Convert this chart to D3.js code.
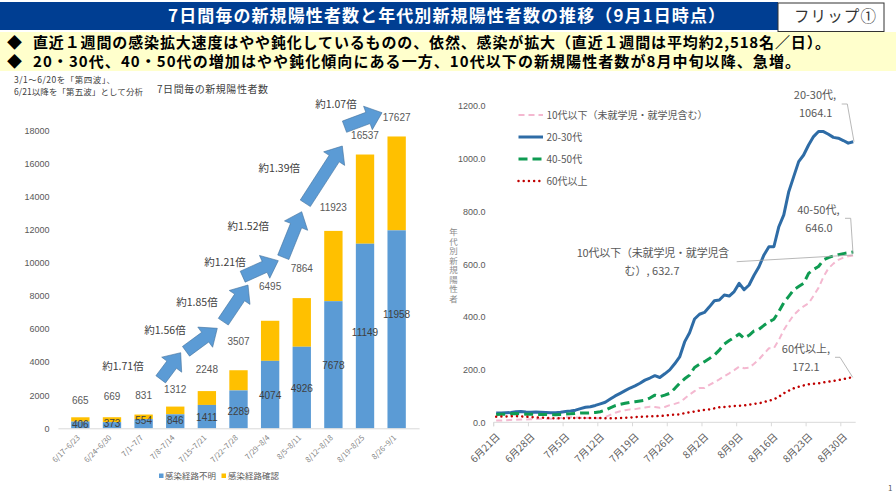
<!DOCTYPE html>
<html lang="ja">
<head>
<meta charset="utf-8">
<script src="https://cdn.jsdelivr.net/npm/d3@7"></script>
<style>
	html, body { margin: 0; padding: 0; background: #fff; }
	svg { display: block; }
	text { font-family: "Noto Sans CJK JP", "Noto Sans", sans-serif; }
	.num text, text.num { font-family: "Liberation Sans", sans-serif; }
</style>
</head>
<body>
<svg id="chart" width="896" height="504"></svg>
<script>
// weekly new cases
var weeks = ["6/17~6/23","6/24~6/30","7/1~7/7","7/8~7/14","7/15~7/21","7/22~7/28","7/29~8/4","8/5~8/11","8/12~8/18","8/19~8/25","8/26~9/1"];
var unknownRoute = [406,373,554,846,1411,2289,4074,4926,7678,11149,11958];
var weeklyTotal = [665,669,831,1312,2248,3507,6495,7864,11923,16537,17627];
var ratioLabels = ["約1.71倍","約1.56倍","約1.85倍","約1.21倍","約1.52倍","約1.39倍","約1.07倍"];
var weeklyTicks = [0,2000,4000,6000,8000,10000,12000,14000,16000,18000];

// daily values by age group, 6/21 .. 9/1
var under10s = [7,7,8,9,10,11,11,12,12,13, 13,13,13,16,19,19,18,17,16,16, 15,15,20,28,36,42,46,49,50,53, 56,59,58,55,58,65,70,76,90,105, 118,130,130,142,152,163,175,186,198,211, 205,207,222,239,260,281,281,312,350,380, 407,425,440,451,480,510,552,584,602,616, 625,630,632.7];
var age2030 = [35,35,36,37,40,41,39,38,39,38, 37,36,36,38,41,43,46,52,57,59, 64,70,76,88,100,110,120,130,138,148, 160,168,177,170,184,199,222,248,305,340, 392,410,417,438,461,464,483,479,496,527, 503,521,558,590,635,666,666,742,787,875, 932,989,1014,1052,1084,1103,1103,1093,1081,1078, 1069,1059,1064.1];
var age4050 = [30,31,31,32,33,32,31,31,30,30, 30,29,29,30,31,32,34,35,35,36, 37,40,46,55,63,68,72,76,78,81, 84,92,103,97,103,110,128,148,165,179, 208,220,230,242,255,274,297,310,322,335, 319,330,347,353,368,381,391,420,454,478, 503,515,527,565,580,591,616,625,631,636, 640,643,646];
var age60up = [21,22,22,23,23,22,21,20,18,18, 17,15,15,15,15,16,16,16,16,16, 16,16,15,15,15,16,17,18,20,21, 22,23,23,24,25,28,29,30,35,38, 41,44,47,49,53,57,58,60,62,63, 64,67,70,72,77,82,87,97,110,120, 129,135,140,144,146,148,151,154,157,160, 164,168,172.1];
var ageNames = ["10代以下（未就学児・就学児含む）","20-30代","40-50代","60代以上"];
var dailyTicks = [0,200,400,600,800,1000,1200];

// hand placed on the slide, not data
var totalLift = [17,21,19,17,22,29,34,30,23,19,19];
var innerShift = [0,-2,-3,-1,1,2,1,1,1,-4,-15];
var arrowPath = [[160.7,379.3,180.7,352.7],[186,351.3,217.3,328.3],[223.3,321.7,248,285],[242.7,276.7,278.3,260.7],[283.3,257.3,301.7,211.7],[305.3,203.3,342.3,146],[344.5,126.7,382,112.7]];
var ratioPos = [[123,366],[165,330],[197,302.7],[225,262],[248.3,226.7],[279.3,168.3],[336,104]];

var seriesColor = ["#f4b8d0","#2e6ca6","#0f9b52","#c00000"];
var seriesDash = ["6 4",null,"9 5","0.01 5.2"];
var seriesWidth = [2,3,3,2.5];

var svg = d3.select("#chart");

// header
svg.append("rect").attr("x",0).attr("y",2).attr("width",778).attr("height",28).attr("fill","#003e92");
svg.append("rect").attr("x",0).attr("y",32).attr("width",896).attr("height",39).attr("fill","#ffffcc");
svg.append("rect").attr("x",778).attr("y",3).attr("width",106).attr("height",28.5).attr("fill","#fff").attr("stroke","#333").attr("stroke-width",1);

function slideText(str, x, y, size, opts) {
	opts = opts || {};
	var t = svg.append("text")
		.attr("x", x).attr("y", y).attr("dy", ".35em")
		.attr("font-size", size)
		.attr("fill", opts.fill || "#595959")
		.attr("text-anchor", opts.anchor || "start")
		.text(str);
	if(opts.bold)
		t.attr("font-weight", "bold");
	if(opts.fit)
		t.attr("textLength", opts.fit).attr("lengthAdjust", "spacing");
	return t;
}

slideText("7日間毎の新規陽性者数と年代別新規陽性者数の推移（9月1日時点）", 168, 16, 17, {fill:"#fff", bold:true, fit:557});
slideText("フリップ①", 835, 17, 15.5, {fill:"#333", anchor:"middle", fit:82});
slideText("◆", 7, 42.5, 15, {fill:"#000"});
slideText("◆", 7, 62, 15, {fill:"#000"});
slideText("直近１週間の感染拡大速度はやや鈍化しているものの、依然、感染が拡大（直近１週間は平均約2,518名／日）。", 33, 42.5, 15, {fill:"#000", bold:true, fit:797});
slideText("20・30代、40・50代の増加はやや鈍化傾向にある一方、10代以下の新規陽性者数が8月中旬以降、急増。", 33, 62, 15, {fill:"#000", bold:true, fit:767});

slideText("3/1～6/20を「第四波」、", 14, 80, 8.5, {fill:"#404040", fit:101});
slideText("6/21以降を「第五波」として分析", 14, 92, 8.5, {fill:"#404040", fit:129});
slideText("7日間毎の新規陽性者数", 157, 89.5, 10, {fill:"#404040", fit:111});

// left: stacked bars
var barX = d3.scaleBand().domain(weeks).range([57.9,419.1]).padding(0.42);
var barY = d3.scaleLinear().domain([0,18000]).range([428.3,130.3]);

svg.append("g").attr("class","num")
	.attr("transform","translate(52.5,0)")
	.call(d3.axisLeft(barY).tickValues(weeklyTicks).tickSize(0).tickFormat(d3.format("d")))
	.call(function(g) {
		g.select(".domain").remove();
		g.selectAll("text").attr("font-size",9).attr("fill","#595959");
	});

svg.append("g").selectAll("rect").data(weeks).join("rect")
	.attr("x", function(d) { return barX(d); })
	.attr("width", barX.bandwidth())
	.attr("y", function(d,i) { return barY(weeklyTotal[i]); })
	.attr("height", function(d,i) { return barY(unknownRoute[i]) - barY(weeklyTotal[i]); })
	.attr("fill","#ffc000");
svg.append("g").selectAll("rect").data(weeks).join("rect")
	.attr("x", function(d) { return barX(d); })
	.attr("width", barX.bandwidth())
	.attr("y", function(d,i) { return barY(unknownRoute[i]); })
	.attr("height", function(d,i) { return barY(0) - barY(unknownRoute[i]); })
	.attr("fill","#5b9bd5");

svg.append("g")
	.attr("transform","translate(0,"+barY(0)+")")
	.call(d3.axisBottom(barX).tickSize(0))
	.call(function(g) {
		g.select(".domain").attr("stroke","#d9d9d9");
		g.selectAll("text")
			.attr("font-size",7.5).attr("fill","#7f7f7f")
			.attr("font-family","Liberation Sans, sans-serif")
			.attr("text-anchor","end")
			.attr("dy",0).attr("y",0)
			.attr("transform","translate(0,10) rotate(-45)");
	});

svg.append("g").attr("class","num").selectAll("text").data(weeklyTotal).join("text")
	.attr("class","num")
	.attr("x", function(d,i) { return barX(weeks[i]) + barX.bandwidth()/2; })
	.attr("y", function(d,i) { return barY(d) - totalLift[i]; })
	.attr("dy",".35em").attr("text-anchor","middle")
	.attr("font-size",10).attr("fill","#595959")
	.text(function(d) { return d; });

svg.append("g").attr("class","num").selectAll("text").data(unknownRoute).join("text")
	.attr("class","num")
	.attr("x", function(d,i) { return barX(weeks[i]) + barX.bandwidth()/2; })
	.attr("y", function(d,i) { return (barY(0)+barY(d))/2 + innerShift[i]; })
	.attr("dy",".35em").attr("text-anchor","middle")
	.attr("font-size",10).attr("fill","#404040")
	.text(function(d) { return d; });

// block arrows between the weeks
function blockArrow(a) {
	var dx = a[2]-a[0], dy = a[3]-a[1];
	var len = Math.sqrt(dx*dx+dy*dy);
	var w = 6, hw = 12.5, hl = 15;
	var pts = [[0,-w],[len-hl,-w],[len-hl,-hw],[len,0],[len-hl,hw],[len-hl,w],[0,w]];
	return pts.map(function(p) {
		return [a[0]+(p[0]*dx-p[1]*dy)/len, a[1]+(p[0]*dy+p[1]*dx)/len].join(",");
	}).join(" ");
}
svg.append("g").selectAll("polygon").data(arrowPath).join("polygon")
	.attr("points", blockArrow)
	.attr("fill","#5b9bd5").attr("stroke","#41719c").attr("stroke-width",0.6);

ratioLabels.forEach(function(l,i) {
	slideText(l, ratioPos[i][0], ratioPos[i][1], 10.5, {fill:"#404040", anchor:"middle"});
});

svg.append("rect").attr("x",159).attr("y",473.5).attr("width",4.5).attr("height",4.5).attr("fill","#5b9bd5");
slideText("感染経路不明", 165, 476, 8.5, {fill:"#595959"});
svg.append("rect").attr("x",221.5).attr("y",473.5).attr("width",4.5).attr("height",4.5).attr("fill","#ffc000");
slideText("感染経路確認", 228, 476, 8.5, {fill:"#595959"});

// right: daily lines
var dayLabels = d3.timeDay.range(new Date(2021,5,21), new Date(2021,8,2)).map(function(d) {
	return (d.getMonth()+1)+"月"+d.getDate()+"日";
});
var weekTicks = dayLabels.filter(function(d,i) { return i % 7 === 0; });

var dayX = d3.scaleBand().domain(dayLabels).range([493.7,855.7]);
var dayY = d3.scaleLinear().domain([0,1200]).range([422.3,106]);

svg.append("g").attr("class","num")
	.attr("transform","translate(488.5,0)")
	.call(d3.axisLeft(dayY).tickValues(dailyTicks).tickSize(0).tickFormat(d3.format(".1f")))
	.call(function(g) {
		g.select(".domain").remove();
		g.selectAll("text").attr("font-size",9).attr("fill","#595959");
	});

svg.append("g")
	.attr("transform","translate(0,"+dayY(0)+")")
	.call(d3.axisBottom(dayX).tickValues(weekTicks).tickSize(4))
	.call(function(g) {
		g.select(".domain").attr("stroke","#d9d9d9").attr("d","M493.7,4V0H855.7");
		g.selectAll(".tick").attr("transform", function(d) { return "translate("+dayX(d)+",0)"; });
		g.selectAll(".tick line").attr("stroke","#d9d9d9");
		g.selectAll("text")
			.attr("font-size",10).attr("fill","#595959")
			.attr("text-anchor","end")
			.attr("dy",0).attr("y",0)
			.attr("transform","translate(7,15) rotate(-45)");
	});

var line = d3.line()
	.x(function(d,i) { return dayX(dayLabels[i]) + dayX.bandwidth()/2; })
	.y(function(d) { return dayY(d); });

svg.append("g").selectAll("path").data([under10s,age2030,age4050,age60up]).join("path")
	.attr("d", line)
	.attr("fill","none")
	.attr("stroke", function(d,i) { return seriesColor[i]; })
	.attr("stroke-width", function(d,i) { return seriesWidth[i]; })
	.attr("stroke-dasharray", function(d,i) { return seriesDash[i]; })
	.attr("stroke-linecap", function(d,i) { return i === 3 ? "round" : "butt"; })
	.attr("stroke-linejoin","round");

// legend
ageNames.forEach(function(name,i) {
	var y = 115 + i*22;
	svg.append("line").attr("x1",518.5).attr("x2",543).attr("y1",y).attr("y2",y)
		.attr("stroke",seriesColor[i]).attr("stroke-width",seriesWidth[i])
		.attr("stroke-dasharray",seriesDash[i])
		.attr("stroke-linecap", i === 3 ? "round" : "butt");
	slideText(name, 546.5, y, 10, {fill:"#595959"});
});

svg.append("text")
	.attr("x",453.5).attr("y",228)
	.attr("writing-mode","vertical-rl")
	.attr("font-size",8.5).attr("letter-spacing",1)
	.attr("fill","#8c8c8c")
	.text("年代別新規陽性者");

// callouts
var leaders = [
	[[841.7,104],[847.3,104],[854,141.7]],
	[[845,218.3],[850.7,218.3],[853,253.3]],
	[[736.7,261.7],[853,255]],
	[[835,357.3],[840,357.3],[852.7,377.3]]
];
svg.append("g").selectAll("path").data(leaders).join("path")
	.attr("d", d3.line())
	.attr("fill","none").attr("stroke","#a6a6a6").attr("stroke-width",0.8);

slideText("20-30代,", 815, 95, 11, {anchor:"middle"});
slideText("1064.1", 815.7, 113.3, 11, {anchor:"middle"});
slideText("40-50代,", 818.3, 210, 11, {anchor:"middle"});
slideText("646.0", 819, 228.3, 11, {anchor:"middle"});
slideText("10代以下（未就学児・就学児含", 653, 252.7, 11, {anchor:"middle", fit:152.6});
slideText("む）, 632.7", 652, 271, 11, {anchor:"middle"});
slideText("60代以上,", 806, 349, 11, {anchor:"middle"});
slideText("172.1", 806, 367.3, 11, {anchor:"middle"});

slideText("1", 888, 488, 8, {fill:"#595959"});
</script>
</body>
</html>
